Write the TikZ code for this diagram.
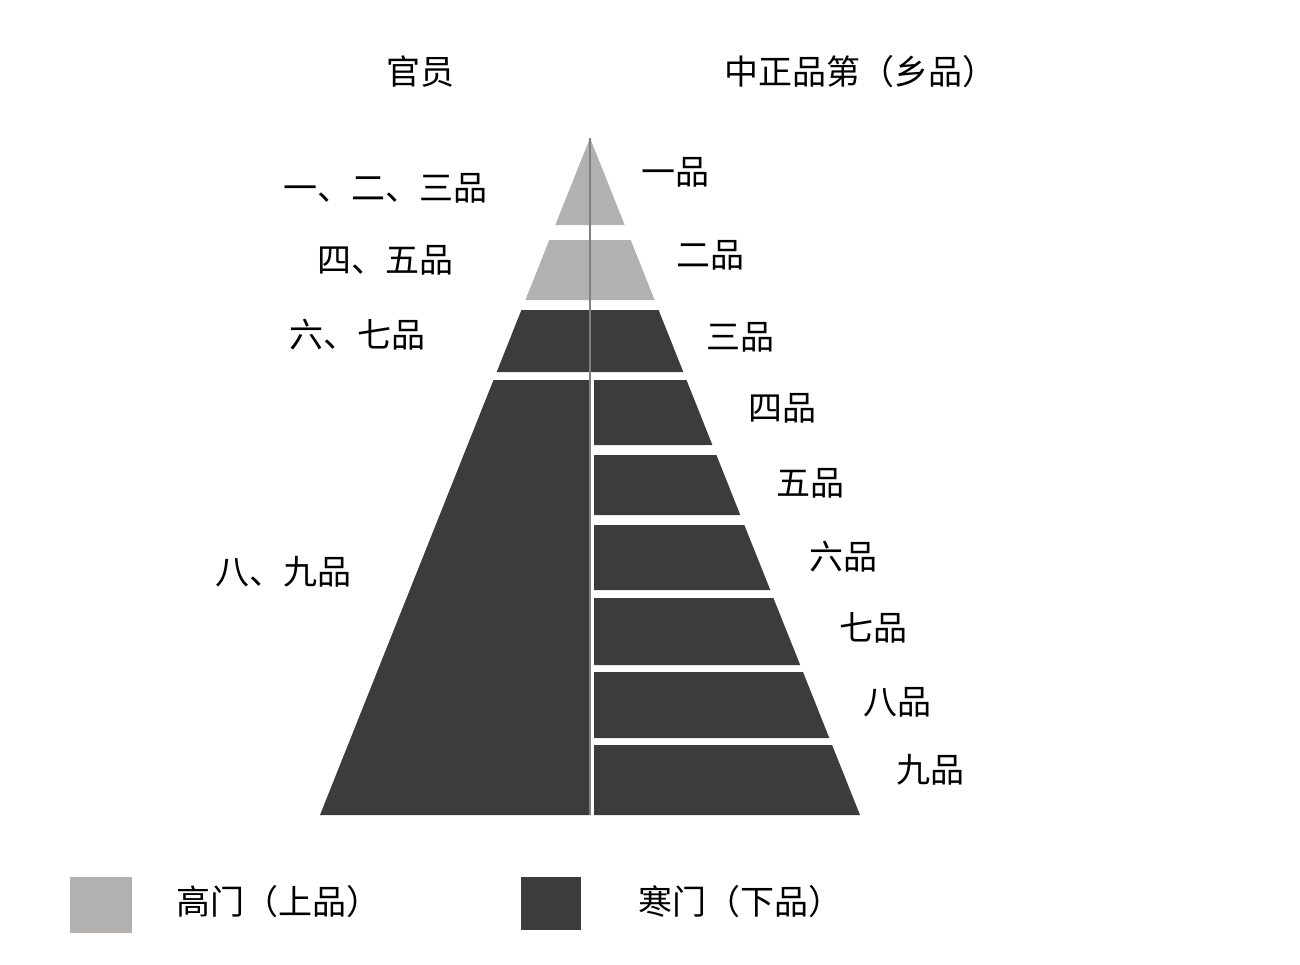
\documentclass[tikz,border=0pt]{standalone}
\usepackage{fontspec}
\newfontfamily\cjk{Noto Sans CJK SC}
\definecolor{lg}{HTML}{B3B0B0}
\definecolor{dg}{HTML}{3C3C3C}
\begin{document}
\begin{tikzpicture}[x=0.5pt,y=-0.5pt,
  lbl/.style={font=\cjk\fontsize{17}{20}\selectfont,text=black,inner sep=0pt},
  light/.style={fill=lg},dark/.style={fill=dg}]
\useasboundingbox (0,0) rectangle (1300,964);
% left half
\fill[light] (590,138) -- (555.3,225) -- (590,225) -- cycle;
\fill[light] (590,240) -- (549.3,240) -- (525.4,300) -- (590,300) -- cycle;
\fill[dark] (590,310) -- (521.4,310) -- (496.7,372) -- (590,372) -- cycle;
\fill[dark] (590,380) -- (493.5,380) -- (320,815) -- (590,815) -- cycle;
% right half
\fill[light] (590,138) -- (624.7,225) -- (590,225) -- cycle;
\fill[light] (590,240) -- (630.7,240) -- (654.6,300) -- (590,300) -- cycle;
\fill[dark] (590,310) -- (658.6,310) -- (683.3,372) -- (590,372) -- cycle;
\fill[dark] (594,380) -- (686.5,380) -- (712.4,445) -- (594,445) -- cycle;
\fill[dark] (594,455) -- (716.4,455) -- (740.3,515) -- (594,515) -- cycle;
\fill[dark] (594,525) -- (744.3,525) -- (770.3,590) -- (594,590) -- cycle;
\fill[dark] (594,598) -- (773.4,598) -- (800.2,665) -- (594,665) -- cycle;
\fill[dark] (594,672) -- (803,672) -- (829.3,738) -- (594,738) -- cycle;
\fill[dark] (594,745) -- (832.1,745) -- (860,815) -- (594,815) -- cycle;
\draw[gray,line width=1pt] (590,138) -- (590,815);
% titles
\node[lbl] (t1) at (420,72) {官员};
\node[lbl] (t2) at (860,72) {中正品第（乡品）};
% left labels
\node[lbl] (l1) at (385,188) {一、二、三品};
\node[lbl] (l2) at (385,260) {四、五品};
\node[lbl] (l3) at (357,335) {六、七品};
\node[lbl] (l4) at (283,572) {八、九品};
% right labels
\node[lbl] (r1) at (675,172) {一品};
\node[lbl] (r2) at (710,255) {二品};
\node[lbl] (r3) at (740,337) {三品};
\node[lbl] (r4) at (782,408) {四品};
\node[lbl] (r5) at (810,483) {五品};
\node[lbl] (r6) at (843,557) {六品};
\node[lbl] (r7) at (873,628) {七品};
\node[lbl] (r8) at (897,702) {八品};
\node[lbl] (r9) at (930,770) {九品};
% legend
\fill[light] (70,877) rectangle (132,933);
\node[lbl] (g1) at (278,902) {高门（上品）};
\fill[dark] (521,877) rectangle (581,930);
\node[lbl] (g2) at (740,902) {寒门（下品）};
\end{tikzpicture}
\end{document}
